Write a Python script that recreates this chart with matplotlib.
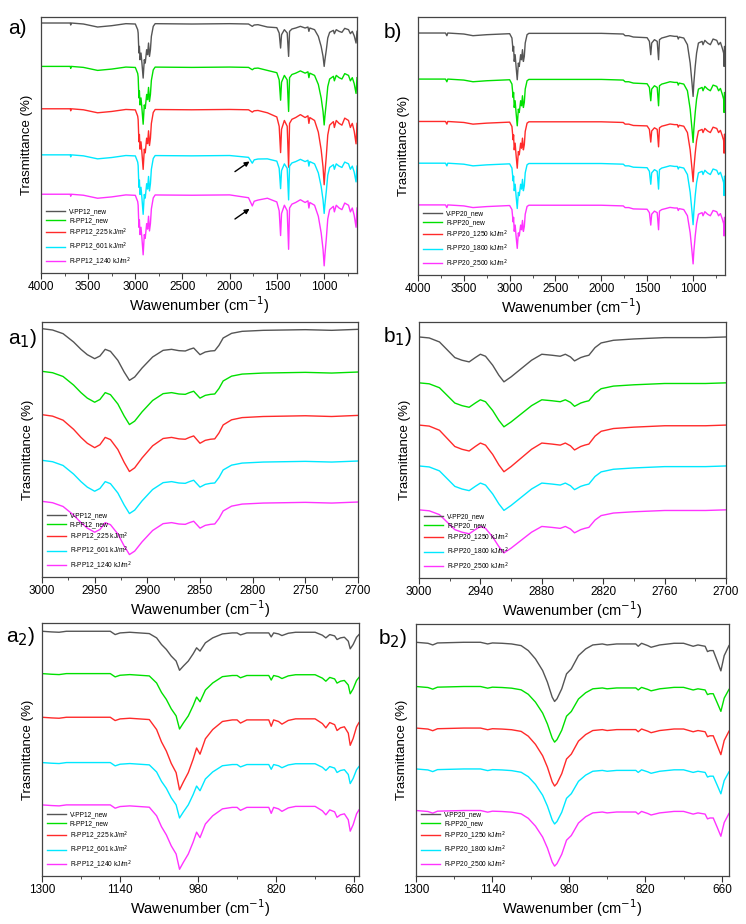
import numpy as np
import matplotlib
matplotlib.use("Agg")
import matplotlib.pyplot as plt
from matplotlib.ticker import FixedLocator

plt.rcParams['font.family'] = ['Liberation Sans', 'DejaVu Sans']

colors = ['#555555', '#00e000', '#ff2a2a', '#00e8ff', '#ff33ff']
labels_pp12 = ['V-PP12_new', 'R-PP12_new', 'R-PP12_225 kJ/m$^2$', 'R-PP12_601 kJ/m$^2$', 'R-PP12_1240 kJ/m$^2$']
labels_pp20 = ['V-PP20_new', 'R-PP20_new', 'R-PP20_1250 kJ/m$^2$', 'R-PP20_1800 kJ/m$^2$', 'R-PP20_2500 kJ/m$^2$']

ticks_full = [4000, 3500, 3000, 2500, 2000, 1500, 1000]
ticks_ch12 = [3000, 2950, 2900, 2850, 2800, 2750, 2700]
ticks_ch20 = [3000, 2940, 2880, 2820, 2760, 2700]
ticks_fp = [1300, 1140, 980, 820, 660]

# ---- panel a (full range, PP12): wavenumber / depth below baseline
a_wn = [4000, 3720, 3690, 3685, 3680, 3550, 3400, 3250, 3100, 3000, 2975, 2970, 2962, 2957, 2950, 2940, 2930, 2917,
        2905, 2895, 2880, 2870, 2860, 2850, 2840, 2830, 2810, 2790, 2400, 2000, 1800, 1760, 1740, 1700, 1600, 1500,
        1475, 1460, 1450, 1420, 1390, 1375, 1365, 1340, 1300, 1250, 1200, 1170, 1160, 1150, 1100, 1060, 1030, 1010,
        998, 990, 975, 960, 940, 900, 890, 870, 840, 810, 780, 740, 720, 700, 680, 660, 650]
a_dep = [0, 0, 0, 6, 0, 3, 12, 8, 2, 3, 20, 30, 90, 70, 110, 90, 120, 165,
         110, 120, 80, 95, 60, 100, 80, 40, 10, 2, 3, 2, 3, 10, 6, 5, 12, 14,
         30, 75, 35, 20, 30, 100, 25, 18, 15, 10, 15, 12, 25, 15, 20, 40, 70, 100,
         130, 110, 80, 45, 28, 22, 32, 20, 25, 28, 16, 20, 32, 25, 38, 60, 25]
a_off = [70, 200, 327, 465, 583]
a_regions = [((3010, 2780), [1, 1.05, 1.1, 1.08, 1.1]),
             ((1810, 1690), [1, 1.0, 1.0, 2.5, 3.5]),
             ((1550, 640), [1, 1.35, 1.75, 1.35, 1.65])]

# ---- panel b (full range, PP20)
b_wn = [4000, 3700, 3685, 3675, 3500, 3400, 3250, 3000, 2975, 2962, 2957, 2950, 2940, 2930, 2917, 2905, 2895, 2880,
        2870, 2860, 2850, 2840, 2830, 2810, 2790, 2000, 1760, 1740, 1700, 1650, 1500, 1475, 1460, 1450, 1420, 1390,
        1375, 1365, 1340, 1300, 1250, 1200, 1170, 1160, 1150, 1100, 1060, 1030, 1010, 998, 990, 975, 960, 940, 900,
        890, 870, 840, 810, 780, 740, 720, 700, 680, 665, 660, 655, 650]
b_dep = [0, 0, 8, 0, 3, 8, 5, 2, 15, 55, 40, 85, 65, 100, 140, 90, 100, 65,
         80, 50, 85, 70, 30, 5, 1, 1, 3, 8, 8, 12, 14, 25, 65, 30, 20, 25,
         80, 20, 15, 12, 8, 10, 10, 18, 12, 15, 35, 90, 150, 190, 150, 100, 60, 30, 25,
         35, 22, 30, 35, 18, 22, 35, 28, 45, 60, 100, 40, 70]
b_off = [100, 238, 365, 490, 615]
b_regions = [((3010, 2780), [1, 1, 1, 0.97, 0.93]),
             ((1550, 640), [1, 1, 0.95, 0.97, 0.93])]

# ---- panel a1 (C-H region, PP12)
a1_wn = [3000, 2990, 2980, 2970, 2963, 2957, 2950, 2945, 2940, 2935, 2928, 2922, 2917, 2912, 2905, 2895, 2885, 2877,
         2870, 2864, 2860, 2856, 2850, 2845, 2840, 2836, 2832, 2828, 2820, 2810, 2790, 2750, 2725, 2700]
a1_dep = [0, 4, 15, 40, 62, 78, 90, 82, 62, 68, 95, 130, 155, 145, 118, 85, 65, 62,
          66, 67, 62, 58, 78, 70, 67, 66, 50, 28, 14, 8, 5, 3, 5, 2]
a1_off = [85, 213, 343, 480, 603]
a1_regions = [((3010, 2690), [1, 1.03, 1.1, 1.03, 1.03])]

# ---- panel b1 (C-H region, PP20)
b1_wn = [3000, 2990, 2980, 2972, 2965, 2958, 2951, 2945, 2940, 2935, 2928, 2922, 2917, 2910, 2900, 2890, 2880, 2870,
         2862, 2857, 2852, 2848, 2842, 2838, 2834, 2828, 2822, 2810, 2790, 2760, 2720, 2700]
b1_dep = [0, 3, 15, 40, 62, 70, 75, 62, 52, 58, 85, 115, 135, 120, 95, 70, 52, 55,
          58, 52, 60, 72, 62, 58, 55, 32, 18, 10, 6, 2, 2, 0]
b1_off = [110, 248, 375, 498, 630]
b1_regions = [((3010, 2690), [1, 0.98, 1.04, 0.99, 0.96])]

# ---- panel a2 (fingerprint, PP12)
a2_wn = [1300, 1280, 1265, 1250, 1200, 1160, 1150, 1140, 1120, 1100, 1080, 1065, 1055, 1045, 1035, 1025, 1018, 1010,
         1000, 990, 983, 976, 965, 950, 930, 910, 900, 893, 880, 835, 830, 825, 815, 808, 795, 780, 740, 725, 718,
         710, 700, 695, 688, 680, 672, 668, 662, 655, 650]
a2_dep = [0, 2, 3, 0, 0, 0, 10, 5, 3, 5, 7, 20, 40, 55, 75, 90, 118, 105,
          90, 68, 50, 60, 35, 20, 8, 5, 5, 11, 5, 5, 17, 5, 8, 13, 6, 3, 3, 12, 20,
          10, 14, 25, 20, 18, 30, 53, 40, 18, 10]
a2_off = [65, 193, 325, 462, 590]
a2_regions = [((1075, 945), [1, 1.42, 1.86, 1.42, 1.65]),
              ((944, 640), [1, 1.15, 1.6, 1.2, 1.5])]

# ---- panel b2 (fingerprint, PP20)
b2_wn = [1300, 1275, 1265, 1255, 1200, 1165, 1150, 1140, 1120, 1100, 1080, 1065, 1050, 1035, 1025, 1015, 1010, 1005,
         995, 985, 975, 960, 945, 930, 910, 900, 880, 840, 835, 828, 815, 808, 790, 760, 740, 720, 710, 695, 690,
         685, 678, 670, 662, 655, 645]
b2_dep = [0, 3, 8, 2, 0, 0, 5, 2, 3, 5, 10, 25, 50, 85, 120, 165, 178, 170,
          140, 95, 80, 40, 20, 8, 5, 8, 5, 5, 12, 3, 10, 15, 8, 3, 3, 12, 8, 12, 28,
          25, 25, 55, 86, 40, 10]
b2_off = [97, 230, 355, 478, 603]
b2_regions = [((1075, 945), [1, 0.94, 0.98, 0.93, 0.94]),
              ((944, 640), [1, 0.87, 0.93, 0.87, 0.9])]

W, H = 746, 924
fig = plt.figure(figsize=(W / 100, H / 100), dpi=100)


def axes_px(x0, x1, y0, y1):
    return fig.add_axes([x0 / W, 1 - y1 / H, (x1 - x0) / W, (y1 - y0) / H])


def minors(t):
    return [(t[i] + t[i + 1]) / 2 for i in range(len(t) - 1)] + [t[-1] - (t[0] - t[1]) / 2]


panels = [
    dict(box=(41, 357, 17, 273), wn=a_wn, dep=a_dep, off=a_off, reg=a_regions, ylim=(819, 52),
         xlim=(4000, 650), ticks=ticks_full, labels=labels_pp12, tag='a)', tagpos=(8, 28)),
    dict(box=(418, 725, 17, 275), wn=b_wn, dep=b_dep, off=b_off, reg=b_regions, ylim=(825, 52),
         xlim=(4000, 650), ticks=ticks_full, labels=labels_pp20, tag='b)', tagpos=(384, 32)),
    dict(box=(42, 358, 322, 577), wn=a1_wn, dep=a1_dep, off=a1_off, reg=a1_regions, ylim=(830, 65),
         xlim=(3000, 2700), ticks=ticks_ch12, labels=labels_pp12, tag='a$_1$)', tagpos=(8, 338)),
    dict(box=(419, 726, 322, 578), wn=b1_wn, dep=b1_dep, off=b1_off, reg=b1_regions, ylim=(835, 65),
         xlim=(3000, 2700), ticks=ticks_ch20, labels=labels_pp20, tag='b$_1$)', tagpos=(383, 336)),
    dict(box=(42, 359, 623, 876), wn=a2_wn, dep=a2_dep, off=a2_off, reg=a2_regions, ylim=(805, 40),
         xlim=(1300, 650), ticks=ticks_fp, labels=labels_pp12, tag='a$_2$)', tagpos=(6, 636)),
    dict(box=(416, 729, 624, 876), wn=b2_wn, dep=b2_dep, off=b2_off, reg=b2_regions, ylim=(800, 42),
         xlim=(1300, 645), ticks=ticks_fp, labels=labels_pp20, tag='b$_2$)', tagpos=(378, 638)),
]

axes = []
for p in panels:
    ax = axes_px(*p['box'])
    axes.append(ax)
    wn = np.array(p['wn'], float)
    dep = np.array(p['dep'], float)
    for i in range(5):
        mult = np.ones_like(wn)
        for (hi, lo), m in p['reg']:
            mult[(wn <= hi) & (wn >= lo)] = m[i]
        ax.plot(wn, p['off'][i] + dep * mult, color=colors[i], lw=1.0, label=p['labels'][i])
    ax.set_xlim(*p['xlim'])
    ax.set_ylim(*p['ylim'])
    ax.set_yticks([])
    ax.xaxis.set_major_locator(FixedLocator(p['ticks']))
    ax.xaxis.set_minor_locator(FixedLocator(minors(p['ticks'])))
    ax.tick_params(axis='x', which='major', direction='out', length=4, labelsize=8.5, color='#333333', pad=2)
    ax.tick_params(axis='x', which='minor', direction='out', length=2.5, color='#333333')
    for s in ax.spines.values():
        s.set_color('#444444')
        s.set_linewidth(0.9)
    ax.set_xlabel('Wawenumber (cm$^{-1}$)', fontsize=10.5, labelpad=1)
    ax.set_ylabel('Trasmittance (%)', fontsize=9.5, labelpad=6)
    ax.legend(loc='lower left', fontsize=4.8, frameon=False, handlelength=2.8,
              labelspacing=0.25, borderaxespad=0.4, handletextpad=0.6)
    fig.text(p['tagpos'][0] / W, 1 - p['tagpos'][1] / H, p['tag'], fontsize=15, va='center', ha='left')

# arrows in panel a
for y0, y1 in [(520, 480), (662, 622)]:
    axes[0].annotate('', xy=(1765, y1), xytext=(1968, y0),
                     arrowprops=dict(arrowstyle='-|>', color='black', lw=1.0, mutation_scale=7))

fig.savefig('out.png', dpi=100, facecolor='white')
